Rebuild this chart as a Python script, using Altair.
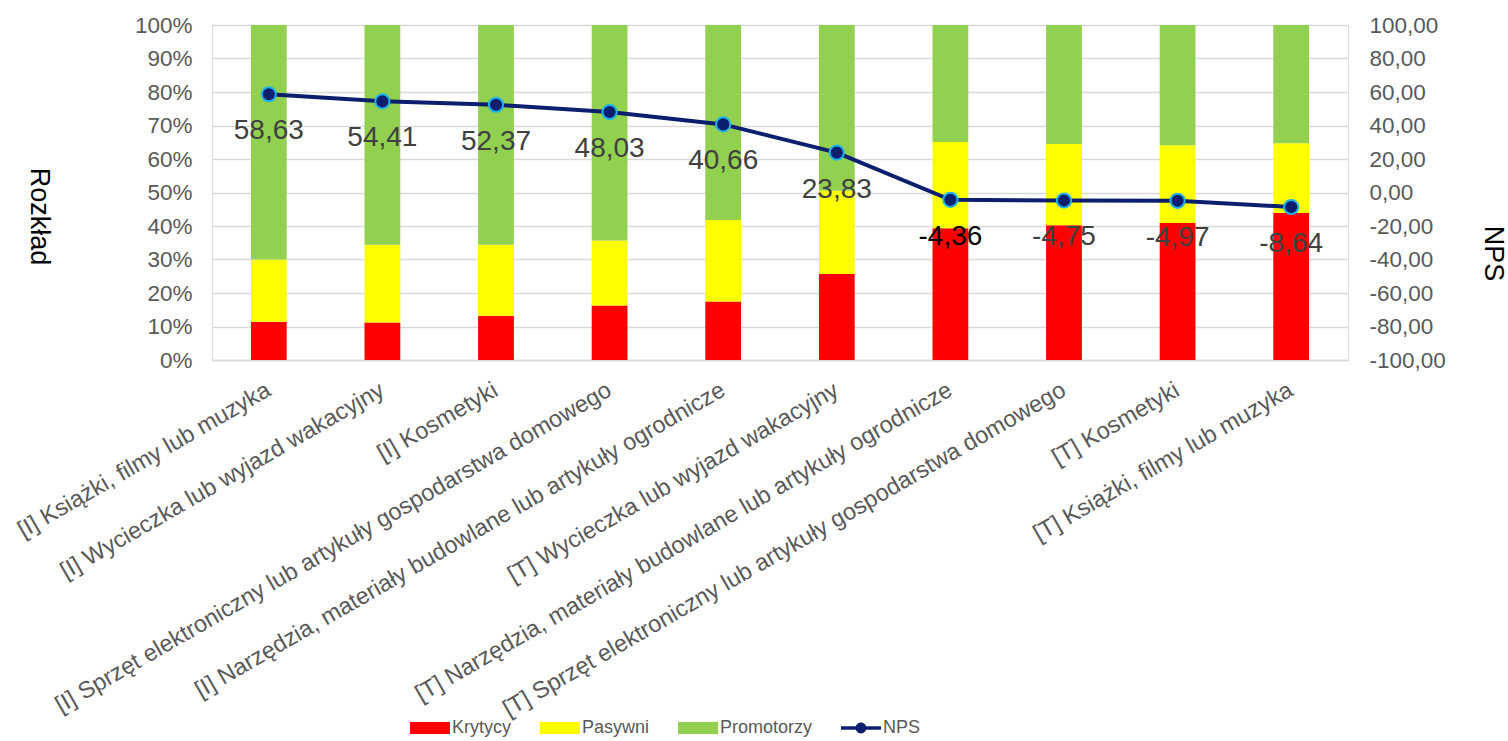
import altair as alt
import pandas as pd

# Categories (in display order) and shares of each group, in percent
kategorie = [
    "[I] Książki, filmy lub muzyka",
    "[I] Wycieczka lub wyjazd wakacyjny",
    "[I] Kosmetyki",
    "[I] Sprzęt elektroniczny lub artykuły gospodarstwa domowego",
    "[I] Narzędzia, materiały budowlane lub artykuły ogrodnicze",
    "[T] Wycieczka lub wyjazd wakacyjny",
    "[T] Narzędzia, materiały budowlane lub artykuły ogrodnicze",
    "[T] Sprzęt elektroniczny lub artykuły gospodarstwa domowego",
    "[T] Kosmetyki",
    "[T] Książki, filmy lub muzyka",
]
krytycy = [11.4, 11.2, 13.2, 16.3, 17.5, 25.7, 39.3, 40.2, 40.9, 43.9]
pasywni = [18.6, 23.2, 21.2, 19.4, 24.3, 24.8, 25.8, 24.3, 23.2, 20.8]
promotorzy = [70.0, 65.6, 65.6, 64.3, 58.2, 49.5, 34.9, 35.5, 35.9, 35.3]
nps = [58.63, 54.41, 52.37, 48.03, 40.66, 23.83, -4.36, -4.75, -4.97, -8.64]

serie = ["Krytycy", "Pasywni", "Promotorzy", "NPS"]
kolory = ["#FF0000", "#FFFF00", "#92D050", "#0C1F6E"]
granat = "#0C1F6E"
blekit = "#1FB1EC"
szary = "#595959"
FONT = "Liberation Sans"

# Polish number format: comma as decimal separator, plain hyphen for minus
FORMAT_PL = "replace(replace(format({v}, '.2f'), '.', ','), '\u2212', '-')"

# long table for the stacked bars
wiersze = []
for i, k in enumerate(kategorie):
    for j, (nazwa, wart) in enumerate(
        [("Krytycy", krytycy[i]), ("Pasywni", pasywni[i]), ("Promotorzy", promotorzy[i])]
    ):
        wiersze.append({"kategoria": k, "seria": nazwa, "udzial": wart, "kolejnosc": j})
slupki_df = pd.DataFrame(wiersze)
nps_df = pd.DataFrame({"kategoria": kategorie, "nps": nps})

x_enc = alt.X(
    "kategoria:N",
    sort=kategorie,
    scale=alt.Scale(paddingInner=0.685, paddingOuter=0.3425),
    axis=alt.Axis(
        title=None,
        labelAngle=-30,
        labelAlign="right",
        labelBaseline="middle",
        labelPadding=28,
        labelLimit=1000,
        labelFontSize=23.5,
        labelColor=szary,
        labelFont=FONT,
        ticks=False,
        domainColor="#D9D9D9",
        domainWidth=1.5,
    ),
)

slupki = (
    alt.Chart(slupki_df)
    .mark_bar()
    .encode(
        x=x_enc,
        y=alt.Y(
            "udzial:Q",
            stack="zero",
            scale=alt.Scale(domain=[0, 100], nice=False),
            axis=alt.Axis(
                values=list(range(0, 101, 10)),
                labelExpr="datum.value + '%'",
                grid=True,
                gridColor="#D9D9D9",
                gridWidth=1.5,
                domain=False,
                ticks=False,
                labelFontSize=22.5,
                labelColor=szary,
                labelFont=FONT,
                labelPadding=20,
                title="Rozkład",
                titleAngle=90,
                titleFontSize=27,
                titleFontWeight="normal",
                titleColor="black",
                titleFont=FONT,
                titleX=-174,
                titleY=191,
                titleAlign="center",
                titleBaseline="middle",
            ),
        ),
        color=alt.Color(
            "seria:N",
            scale=alt.Scale(domain=serie[:3], range=kolory[:3]),
            legend=None,
        ),
        order=alt.Order("kolejnosc:Q"),
    )
)

y_nps = alt.Y(
    "nps:Q",
    scale=alt.Scale(domain=[-100, 100], nice=False),
    axis=alt.Axis(
        orient="right",
        values=list(range(-100, 101, 20)),
        labelExpr=FORMAT_PL.format(v="datum.value"),
        grid=False,
        domain=False,
        ticks=False,
        labelFontSize=22.5,
        labelColor=szary,
        labelFont=FONT,
        labelPadding=21,
        title="NPS",
        titleAngle=90,
        titleFontSize=27,
        titleFontWeight="normal",
        titleColor="black",
        titleFont=FONT,
        titleX=144,
        titleY=228,
        titleAlign="center",
        titleBaseline="middle",
    ),
)

baza_nps = alt.Chart(nps_df).encode(
    x=alt.X("kategoria:N", sort=kategorie, bandPosition=0.5),
    y=y_nps,
)
linia = baza_nps.mark_line(color=granat, strokeWidth=4)
punkty = baza_nps.mark_circle(size=200, color=granat, opacity=1, stroke=blekit, strokeWidth=2)
etykiety = (
    baza_nps.transform_calculate(etykieta=FORMAT_PL.format(v="datum.nps"))
    .mark_text(dy=37, fontSize=28, font=FONT)
    .encode(
        text="etykieta:N",
        color=alt.condition(alt.datum.nps == -4.36, alt.value("#000000"), alt.value("#404040")),
    )
)
warstwa_nps = alt.layer(linia, punkty, etykiety)

# legend entries: wide swatches for the bars, line with a dot for NPS
prostokat = "M-1,-0.3H1V0.3H-1Z"
linia_z_kropka = "M-1,-0.09H1V0.09H-1Z M0.27,0A0.27,0.27 0 1,1 -0.27,0A0.27,0.27 0 1,1 0.27,0Z"
opcje_legendy = dict(
    title=None,
    orient="none",
    direction="horizontal",
    legendX=198,
    legendY=683,
    symbolSize=1600,
    symbolStrokeWidth=0,
    symbolOpacity=1,
    labelFontSize=18,
    labelColor=szary,
    labelFont=FONT,
    labelOffset=2,
    columnPadding=28,
)
legenda = (
    alt.Chart(slupki_df)
    .transform_filter("false")
    .mark_point(filled=True, opacity=1)
    .encode(
        x=alt.value(0),
        y=alt.value(0),
        color=alt.Color(
            "seria:N",
            scale=alt.Scale(domain=serie, range=kolory),
            legend=alt.Legend(**opcje_legendy),
        ),
        shape=alt.Shape(
            "seria:N",
            scale=alt.Scale(domain=serie, range=[prostokat, prostokat, prostokat, linia_z_kropka]),
            legend=alt.Legend(**opcje_legendy),
        ),
    )
)

chart = (
    alt.layer(slupki, warstwa_nps, legenda)
    .resolve_scale(y="independent", color="independent", shape="independent")
    .properties(
        width=1136,
        height=335,
        autosize=alt.AutoSizeParams(type="none"),
        padding={"left": 212, "top": 25, "right": 160, "bottom": 381},
    )
    .configure_view(stroke=None)
    .configure(font=FONT)
)

chart.save("out.html", embed_options={"renderer": "svg", "actions": False})
